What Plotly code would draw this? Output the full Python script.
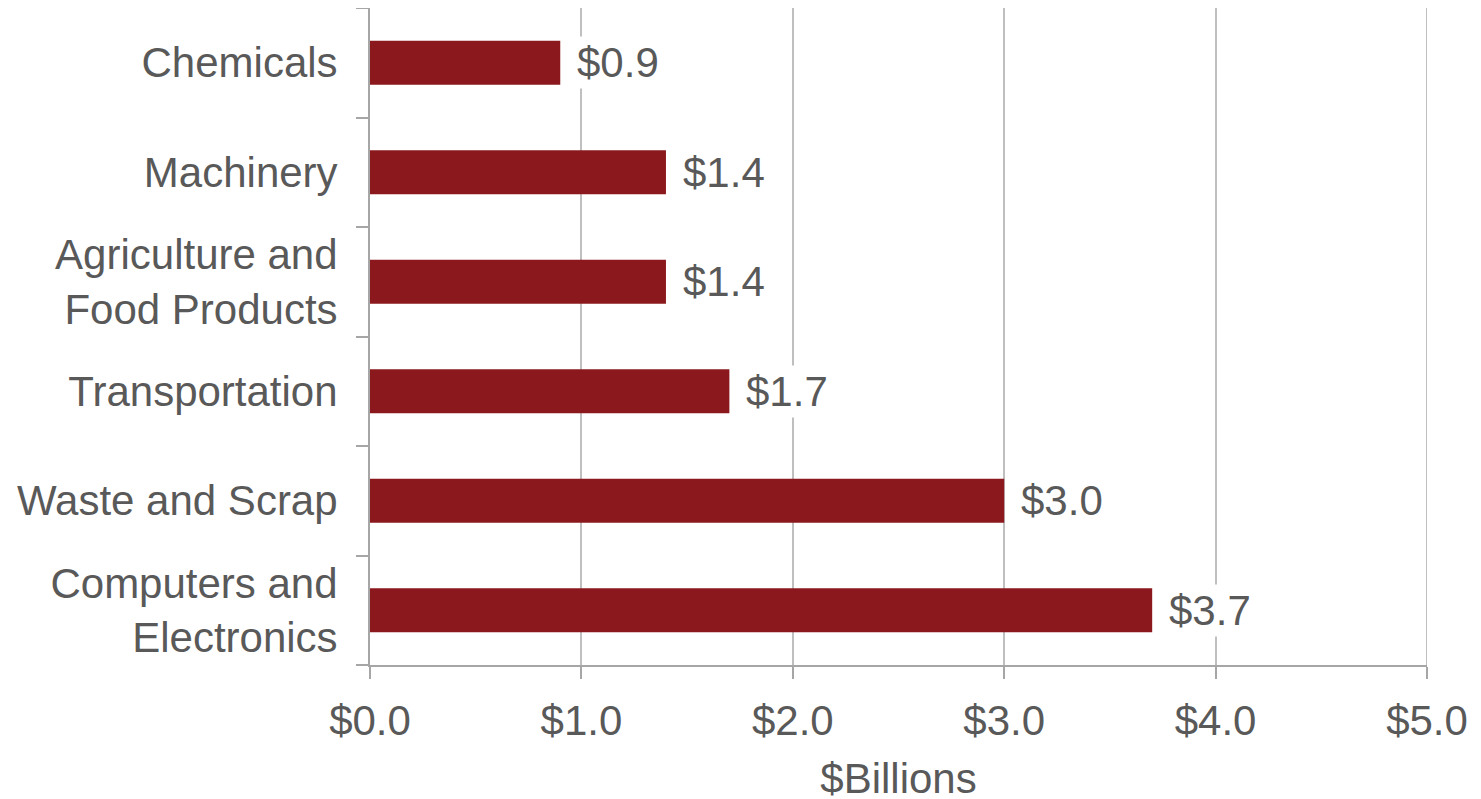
import plotly.graph_objects as go

categories = ["Computers and<br>Electronics", "Waste and Scrap", "Transportation",
              "Agriculture and<br>Food Products", "Machinery", "Chemicals"]
values = [3.7, 3.0, 1.7, 1.4, 1.4, 0.9]
labels = ["$3.7", "$3.0", "$1.7", "$1.4", "$1.4", "$0.9"]
x_ticks = [0, 1, 2, 3, 4, 5]
x_ticktext = ["$0.0", "$1.0", "$2.0", "$3.0", "$4.0", "$5.0"]

FONT = "Liberation Sans, Arial, sans-serif"
TXT = "#595959"
FS = 42

fig = go.Figure(go.Bar(
    x=values, y=categories, orientation="h",
    marker=dict(color="#8B181D", line=dict(width=0)),
    width=0.4, hoverinfo="skip",
))

for v, c, t in zip(values, categories, labels):
    fig.add_annotation(x=v, y=c, xref="x", yref="y", text=t, showarrow=False,
                       xanchor="left", xshift=14, bgcolor="white",
                       font=dict(family=FONT, size=FS, color=TXT), borderpad=2)

# gridline at the far-right tick (Plotly hides grid lines at the range edge)
fig.add_shape(type="line", xref="x", yref="paper", x0=x_ticks[-1], x1=x_ticks[-1],
              y0=0, y1=1, layer="below", line=dict(color="#BFBFBF", width=2))

fig.update_layout(
    width=1481, height=799,
    margin=dict(l=362, r=62, t=0, b=142),
    paper_bgcolor="white", plot_bgcolor="white",
    showlegend=False,
    font=dict(family=FONT, size=FS, color=TXT),
    xaxis=dict(range=[0, 5.0], tickvals=x_ticks, ticktext=x_ticktext,
               showgrid=True, gridcolor="#BFBFBF", gridwidth=1.5,
               showline=True, linecolor="#A6A6A6", linewidth=2,
               ticks="outside", ticklen=12, tickcolor="#A6A6A6", tickwidth=2,
               zeroline=False, ticklabelstandoff=6,
               title=dict(text="$Billions", standoff=20, font=dict(size=FS, color=TXT)),
               tickfont=dict(size=FS, color=TXT)),
    yaxis=dict(categoryorder="array", categoryarray=categories,
               showgrid=False, showline=True, linecolor="#A6A6A6", linewidth=2,
               ticks="outside", ticklen=12, tickcolor="#A6A6A6", tickwidth=2,
               tickson="boundaries", ticklabelstandoff=22,
               tickfont=dict(size=FS, color=TXT)),
)

fig.write_html("out.html")
